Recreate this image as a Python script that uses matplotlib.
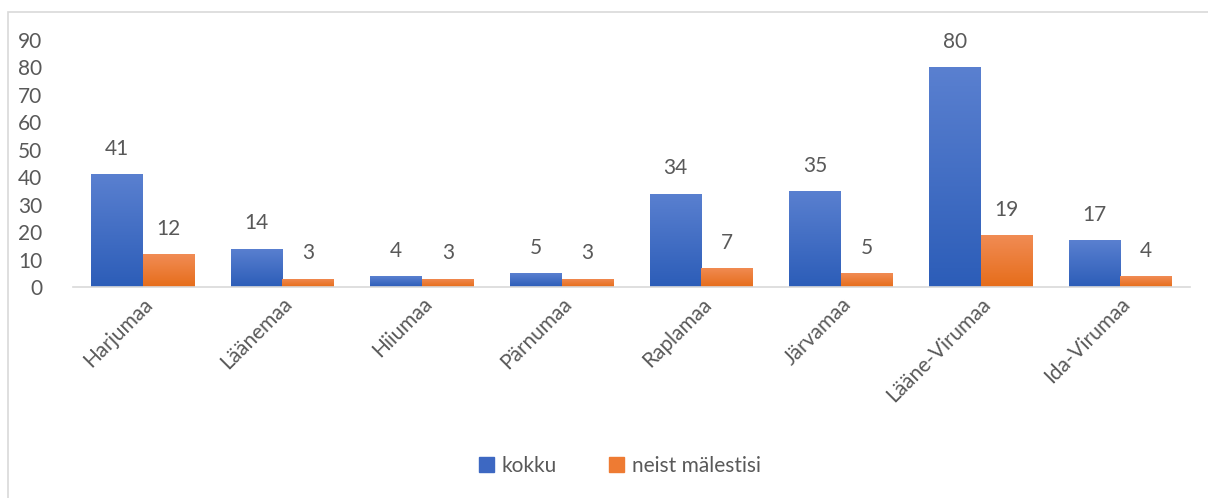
import numpy as np
import matplotlib.pyplot as plt
from matplotlib.patches import Rectangle
from matplotlib.colors import LinearSegmentedColormap

# data
counties = ["Harjumaa", "Läänemaa", "Hiiumaa", "Pärnumaa", "Raplamaa",
            "Järvamaa", "Lääne-Virumaa", "Ida-Virumaa"]
kokku = [41, 14, 4, 5, 34, 35, 80, 17]
malestisi = [12, 3, 3, 3, 7, 5, 19, 4]

plt.rcParams['font.family'] = ['Lato', 'DejaVu Sans']
text_col = '#595959'
fs = 15

fig = plt.figure(figsize=(12.08, 4.98), dpi=100)
ax = fig.add_axes([73 / 1208, 1 - 287 / 498, (1190 - 73) / 1208, (287 - 40) / 498])

# outer chart border
fig.patches.append(Rectangle((8 / 1208, -0.05), 1.2, 1 - 12 / 498 + 0.05,
                             transform=fig.transFigure, fill=False,
                             edgecolor='#D9D9D9', linewidth=1.2))

x = np.arange(len(counties))
w = 0.37

blue_cm = LinearSegmentedColormap.from_list('b', ['#2C5DB8', '#5A80D0'])
orange_cm = LinearSegmentedColormap.from_list('o', ['#E66D1A', '#F18C55'])


def gradient_bars(pos, vals, cmap):
    bars = ax.bar(pos, vals, w, color='none', edgecolor='none', zorder=2)
    grad = np.linspace(0, 1, 256).reshape(-1, 1)
    for b in bars:
        bx, by = b.get_x(), b.get_y()
        bw, bh = b.get_width(), b.get_height()
        im = ax.imshow(grad, cmap=cmap, origin='lower', aspect='auto',
                       extent=[bx, bx + bw, by, by + bh], zorder=2)
        im.set_clip_path(b)
    return bars


b1 = gradient_bars(x - w / 2, kokku, blue_cm)
b2 = gradient_bars(x + w / 2, malestisi, orange_cm)

for bars, vals in ((b1, kokku), (b2, malestisi)):
    for b, v in zip(bars, vals):
        ax.annotate(str(v), (b.get_x() + b.get_width() / 2, v),
                    xytext=(0, 11), textcoords='offset points',
                    ha='center', va='bottom', fontsize=fs, color=text_col)

ax.set_xlim(-0.5, len(counties) - 0.5)
ax.set_ylim(0, 90)
ax.set_yticks(range(0, 91, 10))
ax.set_xticks(x)
ax.set_xticklabels(counties, rotation=45, ha='right', va='top',
                   rotation_mode='anchor')
ax.tick_params(axis='both', length=0, labelsize=fs, colors=text_col)
ax.tick_params(axis='y', pad=22)
ax.tick_params(axis='x', pad=5)
for s in ('top', 'right', 'left'):
    ax.spines[s].set_visible(False)
ax.spines['bottom'].set_color('#D9D9D9')
ax.spines['bottom'].set_linewidth(1.2)

handles = [Rectangle((0, 0), 1, 1, color='#3D68C2'),
           Rectangle((0, 0), 1, 1, color='#EE7B33')]
fig.legend(handles, ['kokku', 'neist mälestisi'], loc='center',
           bbox_to_anchor=(620 / 1208, 1 - 466 / 498), ncol=2, frameon=False,
           fontsize=fs, labelcolor=text_col, handlelength=0.7,
           handleheight=0.7, handletextpad=0.4, columnspacing=2.5)

fig.savefig('out.png', dpi=100)
